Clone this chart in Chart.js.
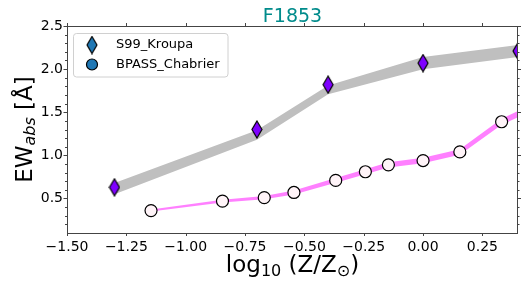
<!DOCTYPE html>
<html>
<head>
<meta charset="utf-8">
<script src="https://cdn.jsdelivr.net/npm/chart.js@4.4.0/dist/chart.umd.min.js"></script>
<style>
  html, body { margin: 0; padding: 0; background: #fff; }
  #wrap { width: 527px; height: 287px; }
</style>
</head>
<body>
<div id="wrap"><canvas id="chart" width="527" height="287"></canvas></div>
<script>
// S99_Kroupa
const s99Z = [-1.3, -0.7, -0.4, 0.0, 0.4];
const s99EW = [0.63, 1.30, 1.82, 2.07, 2.21];
const s99Upper = [0.68, 1.29, 1.81, 2.14, 2.28];
const s99Lower = [0.55, 1.18, 1.71, 2.00, 2.14];

// BPASS_Chabrier
const bpassZ = [-1.146, -0.845, -0.669, -0.544, -0.368, -0.243, -0.146, 0.0, 0.155, 0.331, 0.456];
const bpassEW = [0.36, 0.47, 0.51, 0.57, 0.71, 0.81, 0.89, 0.94, 1.04, 1.39, 1.55];
const bpassUpper = [0.372, 0.485, 0.528, 0.593, 0.738, 0.840, 0.920, 0.972, 1.072, 1.425, 1.585];
const bpassLower = [0.348, 0.455, 0.492, 0.547, 0.682, 0.780, 0.860, 0.908, 1.008, 1.355, 1.515];

const xTicks = [-1.5, -1.25, -1.0, -0.75, -0.5, -0.25, 0.0, 0.25];
const yTicks = [0.5, 1.0, 1.5, 2.0, 2.5];

const legendNames = ["S99_Kroupa", "BPASS_Chabrier"];

const pts = (xs, ys) => xs.map((x, i) => ({ x: x, y: ys[i] }));

// thin diamond marker (like matplotlib 'd')
function diamond(w, h, fill) {
    const c = document.createElement("canvas");
    c.width = w + 2;
    c.height = h + 2;
    const g = c.getContext("2d");
    g.beginPath();
    g.moveTo(c.width / 2, 1);
    g.lineTo(c.width - 1, c.height / 2);
    g.lineTo(c.width / 2, c.height - 1);
    g.lineTo(1, c.height / 2);
    g.closePath();
    g.fillStyle = fill;
    g.fill();
    g.lineWidth = 1.2;
    g.strokeStyle = "#000";
    g.stroke();
    return c;
}

const violetDiamond = diamond(10, 17, "#7f00ff");
const blueDiamond = diamond(10, 17, "#1f77b4");

// spines, ticks, title, axis labels, legend
const decor = {
    id: "decor",
    afterDraw(chart) {
        const ctx = chart.ctx;
        const a = chart.chartArea;
        const xs = chart.scales.x, ys = chart.scales.y;
        ctx.save();

        // spines
        ctx.strokeStyle = "#444";
        ctx.lineWidth = 1;
        ctx.strokeRect(Math.round(a.left) + 0.5, Math.round(a.top) + 0.5,
            Math.round(a.right - a.left) - 1, Math.round(a.bottom - a.top));

        // ticks
        ctx.beginPath();
        xTicks.forEach(v => {
            const px = Math.round(xs.getPixelForValue(v)) + 0.5;
            ctx.moveTo(px, a.top); ctx.lineTo(px, a.top - 3);
            ctx.moveTo(px, a.bottom); ctx.lineTo(px, a.bottom + 3);
        });
        for (let k = 2; k <= 25; k++) {
            const v = k / 10;
            const py = Math.round(ys.getPixelForValue(v)) + 0.5;
            const len = (k % 5 === 0) ? 3.5 : 2;
            ctx.moveTo(a.left, py); ctx.lineTo(a.left - len, py);
            ctx.moveTo(a.right - 0.5, py); ctx.lineTo(a.right - 0.5 + len, py);
        }
        ctx.stroke();

        // title
        ctx.fillStyle = "#008b8b";
        ctx.font = "19px 'DejaVu Sans'";
        ctx.textAlign = "center";
        ctx.textBaseline = "alphabetic";
        ctx.fillText("F1853", (a.left + a.right) / 2, 21.5);

        // x axis label: log10 (Z/Z☉)
        ctx.fillStyle = "#000";
        ctx.textAlign = "left";
        const big = "23px 'DejaVu Sans'", small = "16px 'DejaVu Sans'";
        const xParts = [["log", big, 0], ["10", small, 4], [" (Z/Z", big, 0], ["\u2299", small, 4], [")", big, 0]];
        let tw = 0;
        xParts.forEach(p => { ctx.font = p[1]; tw += ctx.measureText(p[0]).width; });
        let cx = (a.left + a.right) / 2 - tw / 2;
        xParts.forEach(p => {
            ctx.font = p[1];
            ctx.fillText(p[0], cx, 272 + p[2]);
            cx += ctx.measureText(p[0]).width;
        });

        // y axis label: EW_abs [Å]
        const yParts = [["EW", big, 0], ["abs", "italic 16px 'DejaVu Sans'", 3], [" [\u00c5]", big, 0]];
        tw = 0;
        yParts.forEach(p => { ctx.font = p[1]; tw += ctx.measureText(p[0]).width; });
        ctx.save();
        ctx.translate(31.5, (a.top + a.bottom) / 2 + tw / 2);
        ctx.rotate(-Math.PI / 2);
        cx = 0;
        yParts.forEach(p => {
            ctx.font = p[1];
            ctx.fillText(p[0], cx, p[2]);
            cx += ctx.measureText(p[0]).width;
        });
        ctx.restore();

        // legend
        ctx.beginPath();
        ctx.roundRect(73.5, 33.5, 154.5, 43.5, 3);
        ctx.fillStyle = "rgba(255,255,255,0.8)";
        ctx.fill();
        ctx.strokeStyle = "#d0d0d0";
        ctx.stroke();

        ctx.drawImage(blueDiamond, 92 - blueDiamond.width / 2, 45 - blueDiamond.height / 2);
        ctx.beginPath();
        ctx.arc(92, 64.5, 5.5, 0, Math.PI * 2);
        ctx.fillStyle = "#1f77b4";
        ctx.fill();
        ctx.lineWidth = 1.2;
        ctx.strokeStyle = "#000";
        ctx.stroke();

        ctx.fillStyle = "#000";
        ctx.font = "13px 'DejaVu Sans'";
        ctx.textBaseline = "middle";
        ctx.fillText(legendNames[0], 116, 45);
        ctx.fillText(legendNames[1], 116, 64.5);

        ctx.restore();
    }
};

new Chart(document.getElementById("chart"), {
    type: "line",
    data: {
        datasets: [
            {
                label: "s99 lower",
                data: pts(s99Z, s99Lower),
                borderWidth: 0,
                pointRadius: 0,
                fill: false,
                order: 3,
                clip: 0
            },
            {
                label: "s99 upper",
                data: pts(s99Z, s99Upper),
                borderWidth: 0,
                pointRadius: 0,
                backgroundColor: "#bfbfbf",
                fill: "-1",
                order: 3,
                clip: 0
            },
            {
                label: "bpass lower",
                data: pts(bpassZ, bpassLower),
                borderWidth: 0,
                pointRadius: 0,
                fill: false,
                order: 2,
                clip: 0
            },
            {
                label: "bpass upper",
                data: pts(bpassZ, bpassUpper),
                borderWidth: 0,
                pointRadius: 0,
                backgroundColor: "#ff80ff",
                fill: "-1",
                order: 2,
                clip: 0
            },
            {
                label: legendNames[0],
                data: pts(s99Z, s99EW),
                showLine: false,
                pointStyle: violetDiamond,
                order: 0,
                clip: 0
            },
            {
                label: legendNames[1],
                data: pts(bpassZ, bpassEW),
                showLine: false,
                pointStyle: "circle",
                pointRadius: 6,
                pointBackgroundColor: "#fff4f8",
                pointBorderColor: "#000",
                pointBorderWidth: 1.2,
                order: 1,
                clip: 0
            }
        ]
    },
    options: {
        responsive: false,
        animation: false,
        layout: { padding: { top: 26, right: 9, left: 0, bottom: 0 } },
        plugins: {
            legend: { display: false },
            tooltip: { enabled: false }
        },
        scales: {
            x: {
                type: "linear",
                min: -1.5,
                max: 0.4,
                afterBuildTicks: s => { s.ticks = xTicks.map(v => ({ value: v })); },
                afterFit: s => { s.height = 54; },
                grid: { display: false, drawTicks: false },
                border: { display: false },
                ticks: {
                    padding: 6,
                    color: "#000",
                    font: { family: "DejaVu Sans", size: 14 },
                    maxRotation: 0,
                    callback: v => (v < 0 ? "\u2212" : "") + Math.abs(v).toFixed(2)
                }
            },
            y: {
                type: "linear",
                min: 0.1,
                max: 2.5,
                afterBuildTicks: s => { s.ticks = yTicks.map(v => ({ value: v })); },
                afterFit: s => { s.width = 67; },
                grid: { display: false, drawTicks: false },
                border: { display: false },
                ticks: {
                    padding: 4,
                    color: "#000",
                    font: { family: "DejaVu Sans", size: 14 },
                    callback: v => v.toFixed(1)
                }
            }
        }
    },
    plugins: [decor]
});
</script>
</body>
</html>
